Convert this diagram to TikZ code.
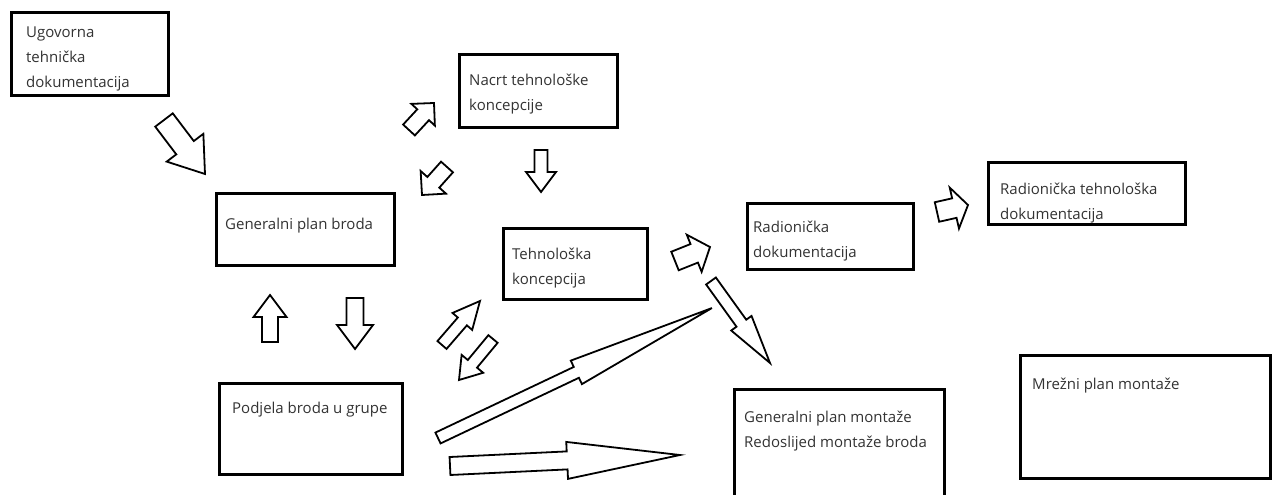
\documentclass[tikz,border=0pt]{standalone}
\usepackage{fontspec}
\setmainfont{Open Sans}
\usetikzlibrary{calc}
\tikzset{
  box/.style={draw=black, line width=2.6pt, anchor=north west, inner sep=0pt},
  txt/.style={anchor=north west, inner sep=0pt, align=left, text=black!80,
    font=\fontsize{15}{25}\selectfont},
  blockarrow/.style={draw=black, line width=1.8pt, line join=miter, fill=white}
}
% block arrow: tail (x1,y1), tip (x2,y2) in pixel coords (y down),
% shaft half width, head half width, head length
\newcommand\blkarrow[7]{%
  \pgfmathsetmacro\blkang{atan2((#2)-(#4),(#3)-(#1))}%
  \pgfmathsetmacro\blklen{10*veclen(((#3)-(#1))/10,((#4)-(#2))/10)}%
  \begin{scope}[shift={(#1,-#2)}, rotate=\blkang]
    \draw[blockarrow] (0,-#5) -- (\blklen-#7,-#5) -- (\blklen-#7,-#6) -- (\blklen,0)
      -- (\blklen-#7,#6) -- (\blklen-#7,#5) -- (0,#5) -- cycle;
  \end{scope}}
\begin{document}
\begin{tikzpicture}[x=1pt,y=1pt]
\clip (0,0) rectangle (1275,-495);
\fill[white] (0,0) rectangle (1275,-495);

% boxes
\node[box, line width=3.4pt, minimum width=157pt, minimum height=83pt] (ugo) at (10,-11) {};
\node[txt] (ugo-t) at (26,-19.5) {\strut Ugovorna\\tehnička\\dokumentacija};

\node[box, minimum width=158pt, minimum height=73pt] (nacrt) at (458,-53) {};
\node[txt] (nacrt-t) at (469,-67.5) {\strut Nacrt tehnološke\\koncepcije};

\node[box, minimum width=178pt, minimum height=72pt] (gpb) at (215,-192) {};
\node[txt] (gpb-t) at (225,-211.5) {\strut Generalni plan broda};

\node[box, minimum width=144pt, minimum height=71pt] (tk) at (502,-227) {};
\node[txt] (tk-t) at (512,-241.5) {\strut Tehnološka\\koncepcija};

\node[box, minimum width=183pt, minimum height=91pt] (pbg) at (218,-382) {};
\node[txt] (pbg-t) at (232,-395.5) {\strut Podjela broda u grupe};

\node[box, minimum width=166pt, minimum height=66pt] (rd) at (746,-202) {};
\node[txt] (rd-t) at (753,-214.5) {\strut Radionička\\dokumentacija};

\node[box, minimum width=197pt, minimum height=62pt] (rtd) at (987,-161) {};
\node[txt] (rtd-t) at (1000,-176.5) {\strut Radionička tehnološka\\dokumentacija};

\node[box, minimum width=210pt, minimum height=130pt] (gpm) at (733,-388) {};
\node[txt] (gpm-t) at (744,-404.5) {\strut Generalni plan montaže\\Redoslijed montaže broda};

\node[box, line width=3.2pt, minimum width=250pt, minimum height=123pt] (mpm) at (1019,-354) {};
\node[txt] (mpm-t) at (1032,-371.5) {\strut Mrežni plan montaže};

% block arrows
\blkarrow{164}{120}{205}{174}{11}{23}{33}
\blkarrow{409}{130}{434}{103}{8}{16}{16}
\blkarrow{447}{167}{422}{195}{8}{17}{17}
\blkarrow{541}{150}{541}{192}{6.5}{15}{20}
\blkarrow{270}{342}{270}{295}{8}{16.5}{22}
\blkarrow{355}{298}{355}{349}{8.5}{18}{24}
\blkarrow{442}{345}{480}{301}{6}{13}{27}
\blkarrow{493}{339}{459}{380}{6}{14}{21}
\blkarrow{675}{261}{710}{247}{10}{20}{17}
\blkarrow{937}{212}{968}{205}{10}{21}{14}
\blkarrow{438}{438}{712}{308}{6}{13}{150}
\blkarrow{450}{466}{680}{455}{9}{18.5}{113}
\blkarrow{711}{281}{770}{363}{6}{12.5}{49}
\end{tikzpicture}
\end{document}
